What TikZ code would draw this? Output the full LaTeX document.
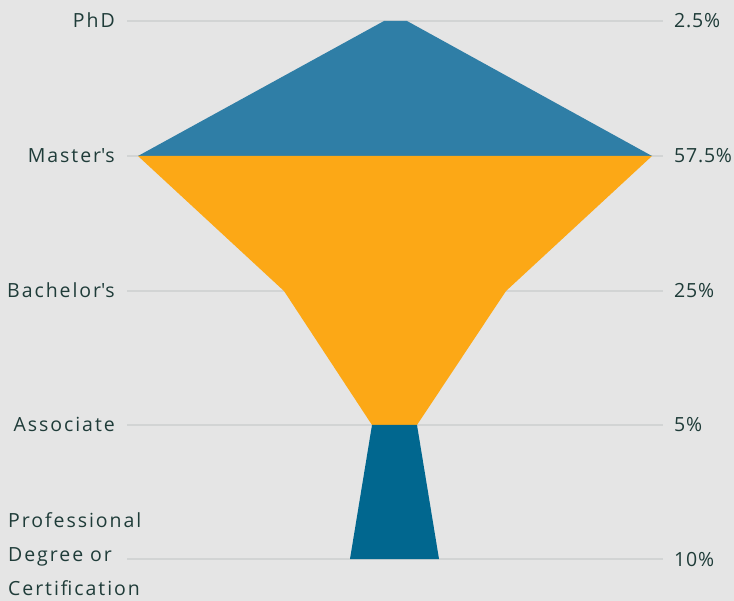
\documentclass[tikz,border=0pt]{standalone}
\usepackage{fontspec}
\setmainfont[LetterSpace=10]{Open Sans}
\newfontfamily\pctfont[LetterSpace=4]{Open Sans}
\definecolor{bg}{HTML}{E5E5E5}
\definecolor{gridgray}{HTML}{D2D4D4}
\definecolor{txt}{HTML}{1F3C39}
\definecolor{topblue}{HTML}{2F7EA6}
\definecolor{gold}{HTML}{FCA816}
\definecolor{deepblue}{HTML}{01678F}
\begin{document}
\begin{tikzpicture}[x=1pt,y=-1pt,
    lbl/.style={text=txt,font=\fontsize{19.5}{34}\selectfont,inner sep=0pt},
    pct/.style={lbl,font=\pctfont\fontsize{19.5}{34}\selectfont,anchor=base west},
    gridline/.style={gridgray,line width=1.5pt}]
    \fill[bg] (0,0) rectangle (734,601);
    \useasboundingbox (0,0) rectangle (734,601);
    % grid
    \foreach \y in {21,156,291,425,559}
        \draw[gridline] (127,\y) -- (663,\y);
    % funnel
    \fill[topblue] (384,21) -- (407,21) -- (652,156) -- (138,156) -- cycle;
    \fill[gold] (138,156) -- (652,156) -- (506,291) -- (417,425) -- (372,425) -- (284,291) -- cycle;
    \fill[deepblue] (372,425) -- (417,425) -- (439,559) -- (350,559) -- cycle;
    % left labels
    \node[lbl,anchor=base east] (phd) at (115,28) {PhD};
    \node[lbl,anchor=base east] (master) at (115,163) {Master\textquotesingle s};
    \node[lbl,anchor=base east] (bachelor) at (115,298) {Bachelor\textquotesingle s};
    \node[lbl,anchor=base east] (assoc) at (115,432) {Associate};
    \node[lbl,anchor=west,align=left] (prof) at (8,554) {Professional\\Degree or\\Certification};
    % right labels
    \node[pct] (pphd) at (674,28) {2.5\%};
    \node[pct] (pmaster) at (674,163) {57.5\%};
    \node[pct] (pbachelor) at (674,298) {25\%};
    \node[pct] (passoc) at (674,432) {5\%};
    \node[pct] (pprof) at (674,566) {10\%};
\end{tikzpicture}
\end{document}
